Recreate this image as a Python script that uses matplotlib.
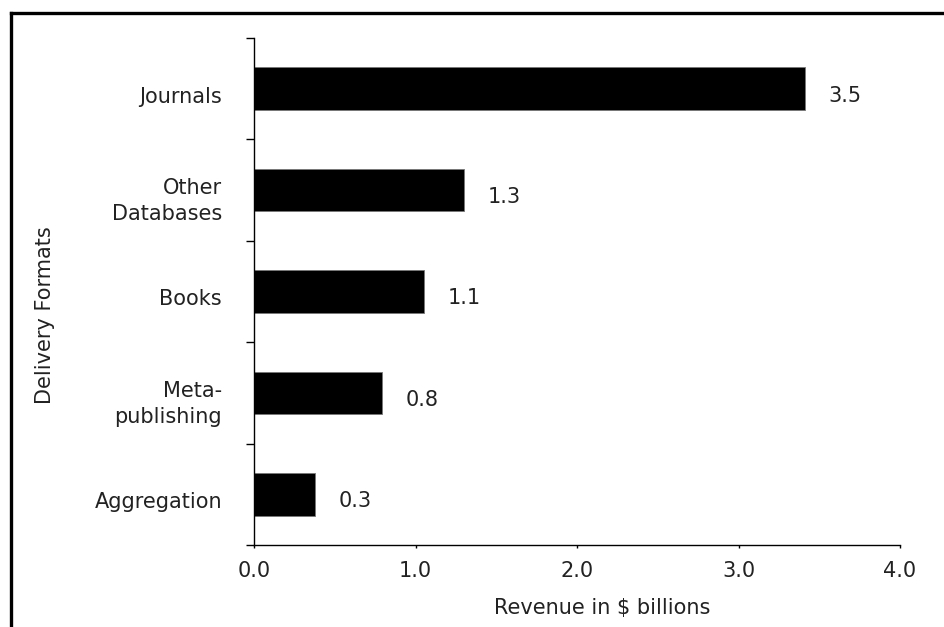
import matplotlib.pyplot as plt
from matplotlib.lines import Line2D
from matplotlib.transforms import ScaledTranslation

# categories, top to bottom
formats = ["Journals", "Other\nDatabases", "Books", "Meta-\npublishing", "Aggregation"]
# bar lengths as drawn in the picture (the old chart is not exact)
bar_values = [3.41, 1.30, 1.05, 0.79, 0.38]
# the value labels printed next to the bars
value_labels = ["3.5", "1.3", "1.1", "0.8", "0.3"]
x_ticks = [0.0, 1.0, 2.0, 3.0, 4.0]

plt.rcParams['font.family'] = ['DejaVu Sans']
fs = 15

fig = plt.figure(figsize=(9.44, 6.27), dpi=100)
ax = fig.add_axes([0.2691, 0.1308, 0.6843, 0.8086])

ypos = list(range(len(formats)))
ax.barh(ypos, bar_values, height=0.42, color='black', edgecolor='#777777', linewidth=0.6)

ax.set_xlim(0, 4)
ax.set_ylim(len(formats) - 0.5, -0.5)

for s in ['top', 'right']:
    ax.spines[s].set_visible(False)
for s in ['left', 'bottom']:
    ax.spines[s].set_linewidth(1.0)
    ax.spines[s].set_color('black')

# x axis
ax.set_xticks(x_ticks)
ax.set_xticklabels(["%.1f" % t for t in x_ticks], fontsize=fs, color='#222222')
ax.tick_params(axis='x', direction='out', length=2.5, width=1, pad=9)

# y axis: ticks on the boundaries, labels on the centres
ax.set_yticks([i - 0.5 for i in range(len(formats) + 1)])
ax.set_yticklabels([])
ax.tick_params(axis='y', which='major', direction='out', length=6, width=1)
ax.set_yticks(ypos, minor=True)
ax.set_yticklabels(formats, minor=True, fontsize=fs, color='#222222', linespacing=1.4)
ax.tick_params(axis='y', which='minor', length=0, pad=23)
shift = ScaledTranslation(0, -6 / 100, fig.dpi_scale_trans)
for lbl in ax.get_yticklabels(minor=True):
    lbl.set_transform(lbl.get_transform() + shift)

# value labels
for y, v, t in zip(ypos, bar_values, value_labels):
    ax.annotate(t, xy=(v, y), xytext=(17, -5), textcoords='offset points',
                ha='left', va='center', fontsize=fs, color='#222222')

ax.set_xlabel("Revenue in $ billions", fontsize=fs, color='#222222', va='center')
ax.xaxis.set_label_coords(0.539, -0.124)
ax.set_ylabel("Delivery Formats", fontsize=fs, color='#222222', va='center')
ax.yaxis.set_label_coords(-0.3235, 0.4536)

# frame around the chart (cut off at right and bottom)
fig.add_artist(Line2D([11 / 944, 1], [1 - 13 / 627, 1 - 13 / 627], color='black',
                      linewidth=2.4, transform=fig.transFigure))
fig.add_artist(Line2D([11 / 944, 11 / 944], [1 - 13 / 627, 0], color='black',
                      linewidth=2.4, transform=fig.transFigure))

fig.savefig("out.png", dpi=100)
